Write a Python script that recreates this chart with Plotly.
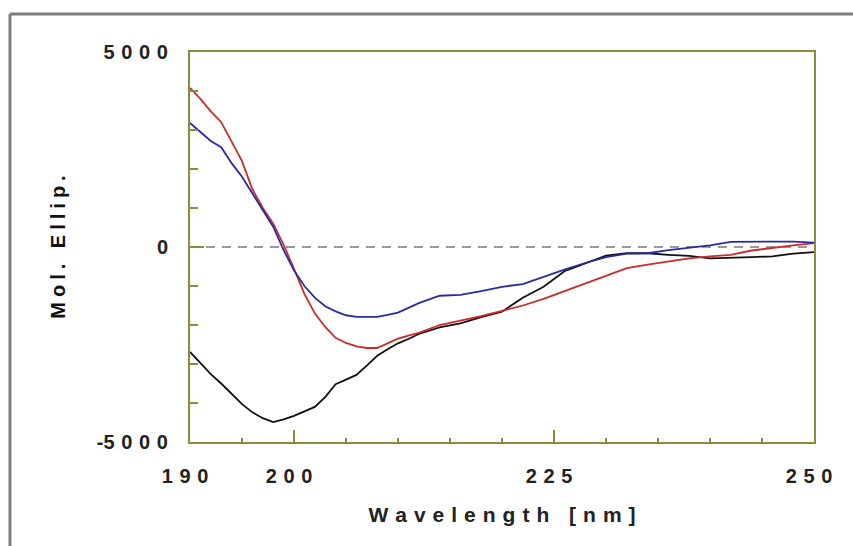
import plotly.graph_objects as go

# Wavelength grid (nm)
wavelength = list(range(190, 213)) + list(range(214, 251, 2))

black_vals = [-2690, -2980, -3260, -3500, -3760, -4030, -4240, -4390, -4490, -4420,
              -4330, -4220, -4100, -3850, -3520, -3400, -3280, -3040, -2790, -2620,
              -2470, -2360, -2230,
              -2060, -1960, -1800, -1660, -1300, -1020, -620, -430, -220, -160,
              -160, -200, -230, -290, -280, -260, -240, -170, -130]

red_vals = [4080, 3800, 3480, 3200, 2700, 2200, 1480, 1000, 600, 60,
            -560, -1200, -1700, -2050, -2330, -2460, -2550, -2590, -2590, -2470,
            -2350, -2270, -2200,
            -2000, -1890, -1770, -1640, -1500, -1330, -1130, -920, -720, -540,
            -450, -370, -290, -240, -200, -90, -20, 40, 100]

blue_vals = [3180, 2960, 2720, 2560, 2150, 1800, 1380, 950, 520, -80,
             -600, -1000, -1300, -1520, -1650, -1750, -1790, -1790, -1790, -1740,
             -1680, -1560, -1440,
             -1250, -1230, -1130, -1020, -950, -760, -580, -410, -260, -170,
             -160, -80, -20, 40, 130, 140, 140, 140, 110]

x_tickvals = [190, 200, 225, 250]
x_ticklabels = ["190", "200", "225", "250"]
y_tickvals = [-5000, 0, 5000]
y_ticklabels = ["-5000", "0", "5000"]
x_title = "Wavelength [nm]"
y_title = "Mol. Ellip."

GAP = "\u2004"   # three-per-em space for letter spacing
def spaced(s, sep=GAP):
    return sep.join(list(s))

AXIS_COLOR = "#8c8c3a"
FONT = "Liberation Sans, Arial, sans-serif"

fig = go.Figure()
fig.add_trace(go.Scatter(x=wavelength, y=black_vals, mode="lines",
                         line=dict(color="#111111", width=1.8), showlegend=False))
fig.add_trace(go.Scatter(x=wavelength, y=red_vals, mode="lines",
                         line=dict(color="#cc2a2a", width=1.8), showlegend=False))
fig.add_trace(go.Scatter(x=wavelength, y=blue_vals, mode="lines",
                         line=dict(color="#2b2ba0", width=1.8), showlegend=False))

# zero reference line
fig.add_shape(type="line", xref="paper", yref="y", x0=0, x1=1, y0=0, y1=0,
              line=dict(color="#9a9a9a", width=2, dash="9px,7px"), layer="below")

# outer grey frame (top and left edges)
fig.add_shape(type="line", xref="paper", yref="paper", x0=-0.2885, x1=1.07,
              y0=1.0974, y1=1.0974, line=dict(color="#7d7d7d", width=3))
fig.add_shape(type="line", xref="paper", yref="paper", x0=-0.2885, x1=-0.2885,
              y0=1.0974, y1=-0.28, line=dict(color="#7d7d7d", width=3))

fig.update_xaxes(
    range=[190, 250], tickvals=x_tickvals,
    ticktext=[spaced(t) + "\u2002" for t in x_ticklabels],
    ticks="inside", ticklen=12, tickwidth=2, tickcolor=AXIS_COLOR,
    minor=dict(dtick=5, tick0=190, ticks="inside", ticklen=4, tickwidth=2,
               tickcolor=AXIS_COLOR),
    showline=True, linecolor=AXIS_COLOR, linewidth=2, mirror=True,
    showgrid=False, zeroline=False,
    tickfont=dict(family=FONT, size=20, color="#222222", weight="bold"),
    ticklabelstandoff=15,
    title=dict(text=spaced(x_title), standoff=21,
               font=dict(family=FONT, size=21, color="#222222", weight="bold")),
)
fig.update_yaxes(
    range=[-5000, 5000], tickvals=y_tickvals,
    ticktext=[t[0] + spaced(t[1:]) if t.startswith("-") else spaced(t) for t in y_ticklabels],
    ticks="inside", ticklen=14, tickwidth=2, tickcolor=AXIS_COLOR,
    minor=dict(dtick=1000, tick0=0, ticks="inside", ticklen=8, tickwidth=2,
               tickcolor=AXIS_COLOR),
    showline=True, linecolor=AXIS_COLOR, linewidth=2, mirror=True,
    showgrid=False, zeroline=False,
    tickfont=dict(family=FONT, size=20, color="#222222", weight="bold"),
    ticklabelstandoff=16,
    title=dict(text=spaced(y_title, "\u2005"), standoff=26,
               font=dict(family=FONT, size=20, color="#111111", weight="bold")),
)

fig.update_layout(
    width=853, height=546,
    margin=dict(l=190, r=39, t=52, b=104),
    paper_bgcolor="white", plot_bgcolor="white",
)

fig.write_html("out.html")
